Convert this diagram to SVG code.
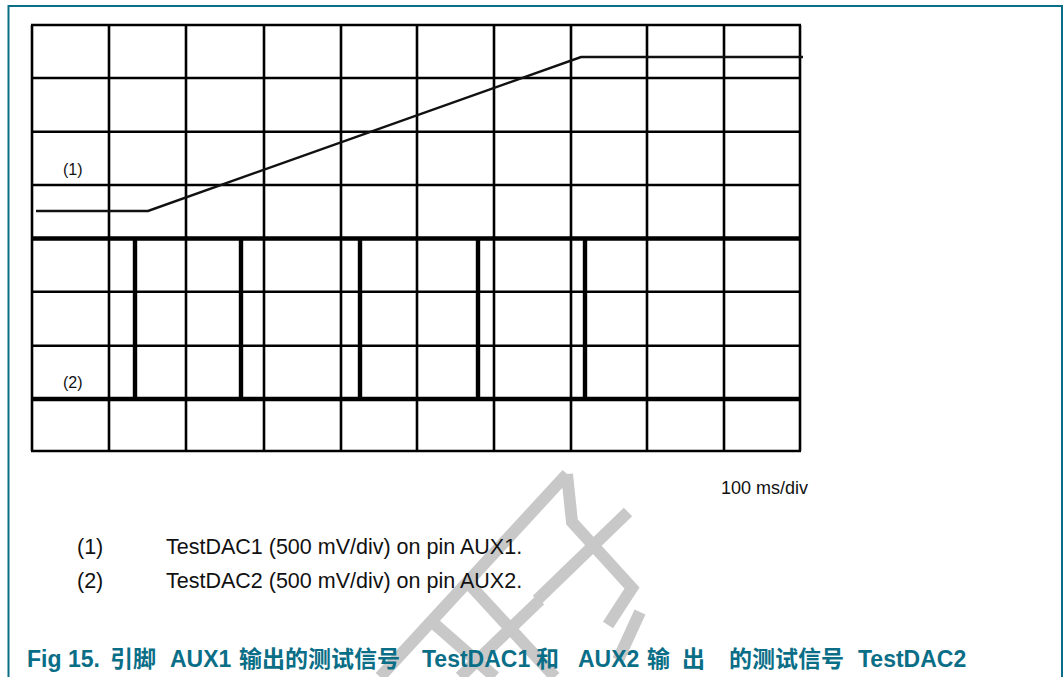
<svg xmlns="http://www.w3.org/2000/svg" width="1064" height="677" viewBox="0 0 1064 677">
  <style>
    .frame { fill: none; stroke: #0A6E87; stroke-width: 2; }
    .grid { stroke: #000; stroke-width: 2.6; fill: none; }
    .gridthick { stroke: #000; stroke-width: 4.4; fill: none; }
    .trace1 { stroke: #111; stroke-width: 2.4; fill: none; }
    .bar { stroke: #000; stroke-width: 4.4; }
    .wm { stroke: #C8C8C8; stroke-width: 12; fill: none; stroke-linejoin: miter; }
    .lbl { font-family: "Liberation Sans", Arial, sans-serif; fill: #111; }
    .cap { font-family: "Liberation Sans", Arial, "Noto Sans CJK SC", sans-serif; font-weight: bold; font-size: 23px; fill: #0A6E87; }
  </style>
  <rect width="1064" height="677" fill="#fff"/>
  <g id="frame">
    <path class="frame" d="M8.5,677 V6 H1062 V677"/>
  </g>

  <g id="watermark">
    <polyline class="wm" points="567,474 380,677"/>
    <polyline class="wm" points="567,474 572,522 632,588 608,625"/>
    <polyline class="wm" points="628,512 537,600"/>
    <polyline class="wm" points="430,620 495,677"/>
    <polyline class="wm" points="470,585 555,677"/>
    <polyline class="wm" points="540,600 460,677"/>
    <polyline class="wm" points="640,612 618,660"/>
  </g>

  <g id="grid">
    <path class="grid" d="M32,25 V451 M109,25 V451 M186,25 V451 M264,25 V451 M341,25 V451 M417,25 V451 M494,25 V451 M571,25 V451 M647,25 V451 M724,25 V451 M800,25 V451"/>
    <path class="grid" d="M31,25 H801 M31,78 H801 M31,131.7 H801 M31,185 H801 M31,291.7 H801 M31,345.7 H801 M31,451 H801"/>
    <path class="gridthick" d="M31,238.5 H801 M31,399 H801"/>
  </g>

  <g id="trace1">
    <polyline class="trace1" points="36,211 148,211 581,57 803,57"/>
    <text class="lbl" x="63" y="175" font-size="16">(1)</text>
  </g>

  <g id="trace2">
    <path class="bar" d="M135,238.5 V399 M241,238.5 V399 M360,238.5 V399 M478,238.5 V399 M585,238.5 V399"/>
    <text class="lbl" x="63" y="388" font-size="16">(2)</text>
  </g>

  <g id="scale">
    <text class="lbl" x="721" y="494" font-size="18">100 ms/div</text>
  </g>

  <g id="legend">
    <text class="lbl" x="77" y="554" font-size="21.5">(1)</text>
    <text class="lbl" x="166" y="554" font-size="21.5">TestDAC1 (500 mV/div) on pin AUX1.</text>
    <text class="lbl" x="77" y="588" font-size="21.5">(2)</text>
    <text class="lbl" x="166" y="588" font-size="21.5">TestDAC2 (500 mV/div) on pin AUX2.</text>
  </g>

  <g id="caption">
    <text class="cap" y="667"><tspan x="27">Fig 15.</tspan><tspan x="110">引脚</tspan><tspan x="170">AUX1</tspan><tspan x="239">输出的测试信号</tspan><tspan x="422">TestDAC1</tspan><tspan x="536">和</tspan><tspan x="578">AUX2</tspan><tspan x="647">输</tspan><tspan x="682">出</tspan><tspan x="729">的测试信号</tspan><tspan x="858">TestDAC2</tspan></text>
  </g>
</svg>
